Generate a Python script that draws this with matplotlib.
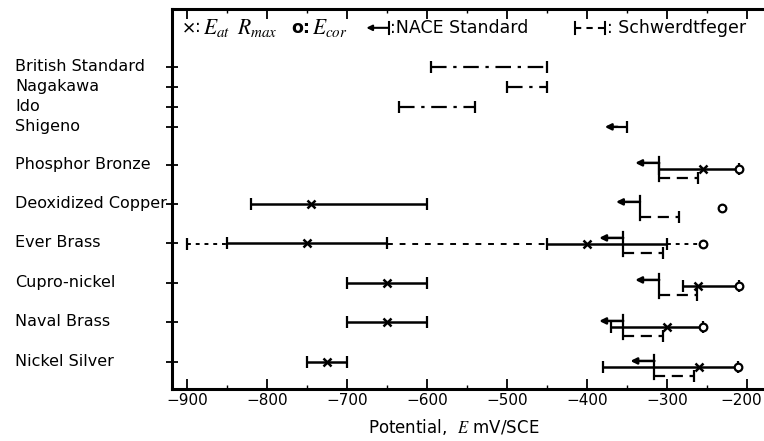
import numpy as np
import matplotlib.pyplot as plt
from matplotlib.ticker import MultipleLocator
from matplotlib.transforms import blended_transform_factory, ScaledTranslation

plt.rcParams['mathtext.fontset'] = 'stix'

# literature ranges (dash-dot)
methods = ["British Standard", "Nagakawa", "Ido", "Shigeno"]
method_lo = [-595, -500, -635]
method_hi = [-450, -450, -540]
shigeno_limit = -350

alloys = ["Phosphor Bronze", "Deoxidized Copper", "Ever Brass",
          "Cupro-nickel", "Naval Brass", "Nickel Silver"]
nace = [-310, -334, -355, -310, -355, -316]
schw_hi = [-262, -285, -305, -263, -305, -267]
e_cor = [-210, -232, -255, -210, -255, -212]

# measured ranges, one entry per bar
rmax_alloy = [0, 1, 2, 2, 3, 3, 4, 4, 5, 5]
rmax_lo = [-310, -820, -850, -450, -700, -280, -700, -370, -750, -380]
rmax_hi = [-210, -600, -650, -300, -600, -210, -600, -255, -700, -212]
rmax_x = [-255, -745, -750, -400, -650, -261, -650, -300, -725, -260]

# Ever Brass extensions
ever_dotted = [(-900, -850), (-300, -255)]
ever_dashed = (-650, -450)

xticks = [-900, -800, -700, -600, -500, -400, -300, -200]

# row layout
method_y = [0, 1, 2, 3]
alloy_y = [4.9, 6.85, 8.8, 10.8, 12.75, 14.75]
right_shift = [0.2, 0.2, 0.05, 0.15, 0.25, 0.25]

fig = plt.figure(figsize=(7.64, 4.41), dpi=100)
ax = fig.add_axes([0.225, 0.118, 0.775, 0.862])
ax.set_xlim(-919, -179)
ax.set_ylim(16.1, -2.9)


def seg(x0, x1, y, ls='-', lw=1.8, caps=(True, True)):
    ax.plot([x0, x1], [y, y], color='k', lw=lw, ls=ls, solid_capstyle='butt')
    cx = [x for x, c in zip((x0, x1), caps) if c]
    ax.plot(cx, [y] * len(cx), ls='none', marker='|', ms=8, mew=1.6, color='k')


def arrow(x0, y, length=30):
    ax.annotate('', xy=(x0 - length, y), xytext=(x0, y),
                arrowprops=dict(arrowstyle='-|>', lw=1.8, color='k',
                                mutation_scale=9, shrinkA=0, shrinkB=0))


dashdot = (0, (7, 3, 1.5, 3))

for lo, hi, y in zip(method_lo, method_hi, method_y):
    seg(lo, hi, y, ls=dashdot, lw=1.6)

# Shigeno: upper limit only
ax.plot([shigeno_limit, shigeno_limit - 12], [method_y[3]] * 2, color='k',
        lw=1.6, ls=dashdot)
ax.plot([shigeno_limit], [method_y[3]], marker='|', ms=8, mew=1.6, color='k')
arrow(shigeno_limit - 12, method_y[3], length=16)

for i, y in enumerate(alloy_y):
    yr = y + right_shift[i]
    # NACE standard: bar + arrow
    ax.plot([nace[i], nace[i]], [yr - 0.6, yr + 0.6], color='k', lw=1.6)
    arrow(nace[i], yr - 0.3)
    # Schwerdtfeger range
    seg(nace[i], schw_hi[i], yr + 0.45, ls=(0, (5, 3)), lw=1.6, caps=(False, True))

for a, lo, hi, xm in zip(rmax_alloy, rmax_lo, rmax_hi, rmax_x):
    y = alloy_y[a] + (right_shift[a] if lo > -500 else 0)
    seg(lo, hi, y)
    ax.plot([xm], [y], marker='x', ms=6, mew=1.8, color='k', ls='none')

ey = alloy_y[2] + right_shift[2]
for lo, hi in ever_dotted:
    ax.plot([lo, hi], [ey, ey], color='k', lw=1.4, ls=(0, (2, 2.5)))
ax.plot([ever_dotted[0][0]], [ey], marker='|', ms=8, mew=1.6, color='k')
ax.plot(list(ever_dashed), [ey, ey], color='k', lw=1.4, ls=(0, (3, 3.5)))

for i, y in enumerate(alloy_y):
    ax.plot([e_cor[i]], [y + right_shift[i]], marker='o', ms=5.5, mew=1.6,
            mfc='white', mec='k', ls='none', zorder=5)

# legend line at the top
ly = -1.95
fs = 12.5
ax.text(-907, ly, r"$\mathbf{\times}$:", fontsize=fs, va='center', ha='left')
ax.text(-880, ly, r"$E_{at}$", fontsize=fs + 3, va='center', ha='left')
ax.text(-838, ly, r"$R_{max}$", fontsize=fs + 3, va='center', ha='left')
ax.text(-770, ly, r"o:", fontsize=fs, va='center', ha='left', fontweight='bold')
ax.text(-744, ly, r"$E_{cor}$", fontsize=fs + 3, va='center', ha='left')
ax.plot([-648, -648], [ly - 0.3, ly + 0.3], color='k', lw=1.5)
ax.annotate('', xy=(-676, ly), xytext=(-648, ly),
            arrowprops=dict(arrowstyle='-|>', lw=1.5, color='k',
                            mutation_scale=8, shrinkA=0, shrinkB=0))
ax.text(-646, ly, ":NACE Standard", fontsize=fs, va='center', ha='left')
gx0, gx1 = -415, -378
ax.plot([gx0, gx1], [ly, ly], color='k', lw=1.5, ls=(0, (3, 2.5)))
ax.plot([gx0, gx0], [ly - 0.3, ly + 0.3], color='k', lw=1.5)
ax.plot([gx1, gx1], [ly - 0.3, ly + 0.3], color='k', lw=1.5)
ax.text(-375, ly, ": Schwerdtfeger", fontsize=fs, va='center', ha='left')

# row labels, left aligned as in the original
ax.set_yticks(method_y + alloy_y)
ax.set_yticklabels([])
lab_tr = blended_transform_factory(fig.transFigure, ax.transData)
for name, y in zip(methods + alloys, method_y + alloy_y):
    ax.text(15 / 764, y, name, transform=lab_tr, fontsize=11.5,
            va='center', ha='left')

ax.set_xticks(xticks)
ax.set_xticklabels(["\u2212" + str(abs(v)) for v in xticks], fontsize=11)
ax.xaxis.set_minor_locator(MultipleLocator(50))
ax.tick_params(axis='x', which='major', direction='in', length=7, width=1.3,
               top=True, pad=3)
ax.tick_params(axis='x', which='minor', direction='in', length=3, width=1,
               top=True)
ax.tick_params(axis='y', direction='inout', length=9, width=1.3, pad=1)
ax.set_xlabel(r"Potential,  $E$ mV/SCE", fontsize=12, labelpad=2)
ax.xaxis.set_label_coords((454 - 172) / 592, -0.075)

for s in ['left', 'bottom', 'top']:
    ax.spines[s].set_linewidth(2.2)
ax.spines['right'].set_visible(False)

# keep the last tick label inside the figure
fig.canvas.draw()
last = ax.xaxis.get_major_ticks()[-1].label1
last.set_transform(last.get_transform() + ScaledTranslation(-6 / 100, 0, fig.dpi_scale_trans))

fig.savefig("out.png", dpi=100)
